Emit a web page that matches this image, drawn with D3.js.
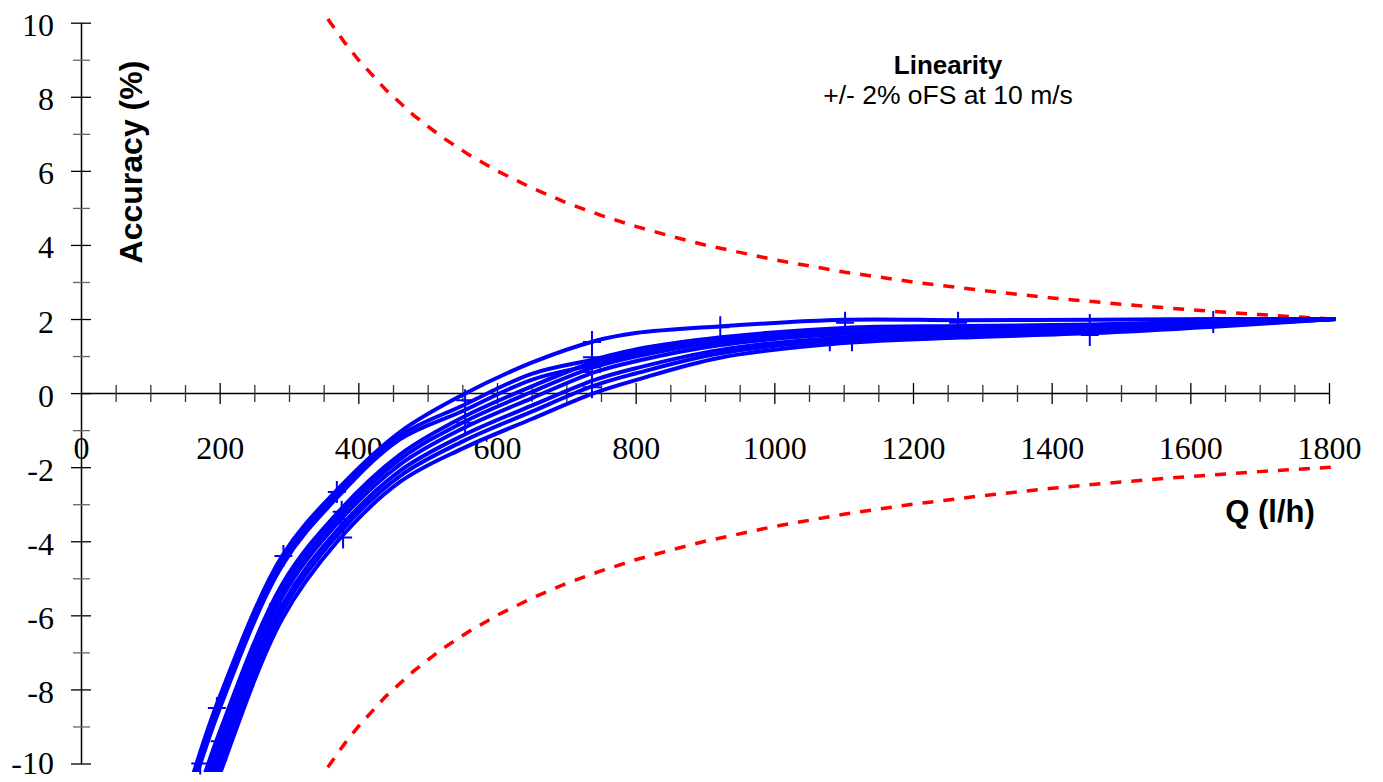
<!DOCTYPE html>
<html>
<head>
<meta charset="utf-8">
<script src="https://cdn.jsdelivr.net/npm/d3@7"></script>
<style>
  html, body { margin: 0; padding: 0; background: #fff; }
  svg { display: block; }
</style>
</head>
<body>
<svg id="chart" width="1383" height="782"></svg>
<script>
// ---------- data ----------
const qGrid = [160, 200, 290, 370, 460, 550, 650, 740, 800, 920, 1100, 1270, 1460, 1640, 1810];

const run1 = [-10.4, -8.2, -4.4, -2.6, -1.05, -0.05, 0.82, 1.4, 1.62, 1.8, 1.98, 1.97, 1.98, 2.0, 2.0];
const run2 = [-10.55, -8.35, -4.52, -2.7, -1.15, -0.34, 0.52, 0.91, 1.18, 1.5, 1.76, 1.81, 1.85, 1.93, 2.0];
const run3 = [-10.72, -8.52, -4.66, -2.81, -1.25, -0.49, 0.36, 0.77, 1.05, 1.42, 1.7, 1.76, 1.82, 1.91, 2.0];
const run4 = [-11.35, -9.15, -5.17, -3.23, -1.66, -0.66, 0.18, 0.84, 1.11, 1.46, 1.73, 1.78, 1.84, 1.92, 2.0];
const run5 = [-11.56, -9.36, -5.34, -3.37, -1.79, -0.8, 0.03, 0.7, 0.99, 1.38, 1.67, 1.74, 1.8, 1.9, 2.0];
const run6 = [-11.77, -9.57, -5.51, -3.51, -1.93, -0.96, -0.14, 0.56, 0.86, 1.29, 1.6, 1.69, 1.76, 1.88, 2.0];
const run7 = [-12.04, -9.84, -5.73, -3.69, -2.1, -1.15, -0.34, 0.35, 0.67, 1.16, 1.51, 1.62, 1.71, 1.85, 2.0];
const run8 = [-12.25, -10.05, -5.9, -3.83, -2.24, -1.31, -0.5, 0.2, 0.53, 1.07, 1.44, 1.57, 1.67, 1.83, 2.0];
const run9 = [-12.5, -10.3, -6.1, -4.0, -2.4, -1.5, -0.7, 0.0, 0.35, 0.95, 1.35, 1.5, 1.62, 1.8, 2.0];
const runs = [run1, run2, run3, run4, run5, run6, run7, run8, run9];

// measured calibration points drawn with "+" markers
const markerQ   = [172, 196, 198, 200, 284, 292, 369, 374, 376, 378, 554, 554, 737, 737, 737, 737, 737, 922, 1080, 1102, 1112, 1265, 1455, 1455, 1633];
const markerAcc = [-10.0, -8.5, -9.9, -9.4, -5.7, -4.4, -2.67, -3.4, -3.2, -3.9, -0.19, -0.8, 1.38, 0.97, 0.7, 0.57, 0.16, 1.78, 1.43, 1.9, 1.43, 1.9, 1.84, 1.57, 1.92];

// linearity limits (+/- 2% of full scale)
const limitQ     = [356, 380, 400, 440, 480, 520, 560, 600, 650, 700, 750, 800, 850, 900, 1000, 1100, 1200, 1300, 1400, 1500, 1600, 1700, 1813];
const upperLimit = [10.1, 9.47, 9.0, 8.18, 7.5, 6.92, 6.43, 6.0, 5.54, 5.14, 4.8, 4.5, 4.24, 4.0, 3.6, 3.27, 3.0, 2.77, 2.57, 2.4, 2.25, 2.12, 1.99];
const lowerLimit = [-10.1, -9.47, -9.0, -8.18, -7.5, -6.92, -6.43, -6.0, -5.54, -5.14, -4.8, -4.5, -4.24, -4.0, -3.6, -3.27, -3.0, -2.77, -2.57, -2.4, -2.25, -2.12, -1.99];

const xMajorTicks = [0, 200, 400, 600, 800, 1000, 1200, 1400, 1600, 1800];
const yMajorTicks = [-10, -8, -6, -4, -2, 0, 2, 4, 6, 8, 10];

const titleText = "Linearity";
const subtitleText = "+/- 2% oFS at 10 m/s";
const xTitle = "Q (l/h)";
const yTitle = "Accuracy (%)";

// ---------- drawing ----------
const svg = d3.select("#chart");
const x = d3.scaleLinear().domain([0, 1800]).range([81, 1329]);
const y = d3.scaleLinear().domain([-10, 10]).range([763.5, 22.7]);

const serif = "'Liberation Serif', 'Times New Roman', serif";
const sans = "'Liberation Sans', Arial, sans-serif";

svg.append("defs").append("clipPath").attr("id", "plotclip")
  .append("rect").attr("x", 0).attr("y", 0).attr("width", 1383).attr("height", 772);

// X axis (crossing ticks every 50, labels every 200)
const xAxis = d3.axisBottom(x)
  .tickValues(d3.range(0, 1801, 50))
  .tickFormat("")
  .tickSizeOuter(0);
const gx = svg.append("g").attr("transform", `translate(0,${y(0)})`).call(xAxis);
gx.select(".domain").attr("stroke", "#000").attr("stroke-width", 1.5);
gx.selectAll(".tick line")
  .attr("y1", d => d % 200 === 0 ? -10 : -8)
  .attr("y2", d => d % 200 === 0 ? 11 : 9)
  .attr("stroke", d => d % 200 === 0 ? "#000" : "#333")
  .attr("stroke-width", 1.3);
gx.selectAll(".tick").filter(d => d === 0).select("line").remove();

const xLab = d3.axisBottom(x).tickValues(xMajorTicks).tickFormat(d => String(d)).tickSize(0);
const gxl = svg.append("g").attr("transform", `translate(0,${y(0)})`).call(xLab);
gxl.select(".domain").remove();
gxl.selectAll("text")
  .attr("y", 66).attr("dy", 0)
  .attr("font-family", serif).attr("font-size", 32).attr("fill", "#000");

// Y axis
const yAxis = d3.axisLeft(y)
  .tickValues(d3.range(-10, 10.1, 1))
  .tickFormat("")
  .tickSizeOuter(0);
const gy = svg.append("g").attr("transform", `translate(${x(0)},0)`).call(yAxis);
gy.select(".domain").attr("stroke", "#000").attr("stroke-width", 1.5);
gy.selectAll(".tick line")
  .attr("x1", d => Math.round(d) % 2 === 0 ? -10 : -8)
  .attr("x2", d => Math.round(d) % 2 === 0 ? 10 : 9)
  .attr("stroke", d => Math.round(d) % 2 === 0 ? "#000" : "#666")
  .attr("stroke-width", 1.3);

const yLab = d3.axisLeft(y).tickValues(yMajorTicks).tickFormat(d => String(d)).tickSize(0);
const gyl = svg.append("g").attr("transform", `translate(${x(0)},0)`).call(yLab);
gyl.select(".domain").remove();
gyl.selectAll("text")
  .attr("x", -27).attr("dy", d => d === -10 ? 10 : 13)
  .attr("text-anchor", "end")
  .attr("font-family", serif).attr("font-size", 32).attr("fill", "#000");

// Limit lines
const limLine = d3.line().x(d => x(d[0])).y(d => y(d[1]));
[upperLimit, lowerLimit].forEach(arr => {
  svg.append("path")
    .datum(limitQ.map((q, i) => [q, arr[i]]))
    .attr("d", limLine)
    .attr("fill", "none")
    .attr("stroke", "#ff0000")
    .attr("stroke-width", 3.5)
    .attr("stroke-dasharray", "11,10");
});

// Blue runs
const runLine = d3.line().x(d => x(d[0])).y(d => y(d[1])).curve(d3.curveCatmullRom.alpha(0.5));
const gRuns = svg.append("g").attr("clip-path", "url(#plotclip)");
runs.forEach(r => {
  gRuns.append("path")
    .datum(qGrid.map((q, i) => [q, r[i]]))
    .attr("d", runLine)
    .attr("fill", "none")
    .attr("stroke", "#0000ff")
    .attr("stroke-width", 4)
    .attr("stroke-linejoin", "round");
});

// Markers
const gMk = svg.append("g");
markerQ.forEach((q, i) => {
  const cx = x(q), cy = y(markerAcc[i]);
  gMk.append("path")
    .attr("d", `M${cx - 9},${cy}H${cx + 9}M${cx},${cy - 11}V${cy + 11}`)
    .attr("stroke", "#0000ff").attr("stroke-width", 2).attr("fill", "none");
});

// Titles
svg.append("text")
  .attr("transform", `translate(142,162) rotate(-90)`)
  .attr("text-anchor", "middle")
  .attr("font-family", sans).attr("font-weight", "bold").attr("font-size", 32)
  .attr("fill", "#000")
  .text(yTitle);

svg.append("text")
  .attr("x", 1270).attr("y", 522)
  .attr("text-anchor", "middle")
  .attr("font-family", sans).attr("font-weight", "bold").attr("font-size", 31)
  .attr("fill", "#000")
  .text(xTitle);

svg.append("text")
  .attr("x", 948).attr("y", 74)
  .attr("text-anchor", "middle")
  .attr("font-family", sans).attr("font-weight", "bold").attr("font-size", 26)
  .attr("fill", "#000")
  .text(titleText);

svg.append("text")
  .attr("x", 948).attr("y", 104)
  .attr("text-anchor", "middle")
  .attr("font-family", sans).attr("font-size", 26.5)
  .attr("fill", "#000")
  .text(subtitleText);
</script>
</body>
</html>
